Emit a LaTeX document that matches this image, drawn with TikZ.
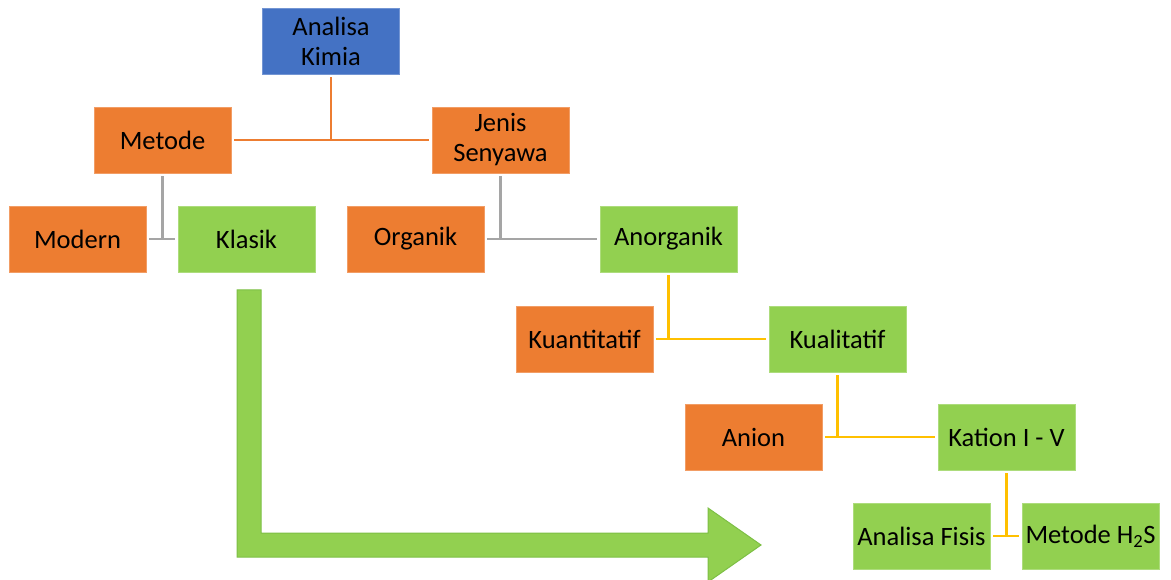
\documentclass[tikz,border=0pt]{standalone}
\usepackage{fontspec}
\setmainfont{Carlito}
\usetikzlibrary{positioning}
\definecolor{boxorange}{HTML}{ED7D31}
\definecolor{boxgreen}{HTML}{92D050}
\definecolor{boxblue}{HTML}{4472C4}
\definecolor{lineyellow}{HTML}{FFC000}
\definecolor{linegray}{HTML}{A5A5A5}
\definecolor{arrowedge}{HTML}{7DBF45}
\tikzstyle{kotak} = [minimum width=137, minimum height=66, inner sep=1, align=center,
  font=\fontsize{26.5}{30}\selectfont, line width=0.8]
\tikzstyle{oren} = [kotak, fill=boxorange, draw=boxorange!75!white]
\tikzstyle{hijau} = [kotak, fill=boxgreen, draw=boxgreen!75!white]
\tikzstyle{biru} = [kotak, fill=boxblue, draw=boxblue!75!white]
\tikzstyle{garis} = [line width=2.8, shorten <=3, shorten >=3]

\begin{document}
\begin{tikzpicture}[x=1pt, y=-1pt]
\useasboundingbox (0,0) rectangle (1171,580);

\node[biru] (kimia) at (331,41) {Analisa\\Kimia};
\node[oren] (metode) at (162.5,140) {Metode};
\node[oren] (jenis) at (500.5,140) {Jenis\\Senyawa};

\node[oren] (modern) at (77.5,239) {Modern};
\node[hijau] (klasik) at (246.5,239) {Klasik};
\node[oren] (organik) at (415.5,239) {Organik};
\node[hijau] (anorganik) at (668.5,239) {Anorganik};

\node[oren] (kuantitatif) at (584.5,339) {Kuantitatif};
\node[hijau] (kualitatif) at (837.5,339) {Kualitatif};

\node[oren] (anion) at (753.5,437) {Anion};
\node[hijau] (kation) at (1006.5,437) {Kation I - V};

\node[hijau] (fisis) at (921.5,536) {Analisa Fisis};
\node[hijau] (hdua) at (1090.5,536) {Metode H\textsubscript{2}S};

% cabang oranye
\draw[garis, boxorange] (metode.east) -- (jenis.west);
\draw[garis, boxorange, shorten >=0] (kimia.south) -- (kimia.south |- metode.east);

% cabang abu-abu
\draw[garis, linegray] (modern.east) -- (klasik.west);
\draw[garis, linegray, shorten >=0] (metode.south) -- (metode.south |- modern.east);
\draw[garis, linegray] (organik.east) -- (anorganik.west);
\draw[garis, linegray, shorten >=0] (jenis.south) -- (jenis.south |- organik.east);

% cabang kuning
\draw[garis, lineyellow] (kuantitatif.east) -- (kualitatif.west);
\draw[garis, lineyellow, shorten >=0] (anorganik.south) -- (anorganik.south |- kuantitatif.east);
\draw[garis, lineyellow] (anion.east) -- (kation.west);
\draw[garis, lineyellow, shorten >=0] (kualitatif.south) -- (kualitatif.south |- anion.east);
\draw[garis, lineyellow] (fisis.east) -- (hdua.west);
\draw[garis, lineyellow, shorten >=0] (kation.south) -- (kation.south |- fisis.east);

% panah besar
\draw[fill=boxgreen, draw=arrowedge, line width=1]
  (237,290) -- (261,290) -- (261,533) -- (708,533) -- (708,508) -- (761,545)
  -- (708,582) -- (708,557) -- (237,557) -- cycle;

\end{tikzpicture}
\end{document}
